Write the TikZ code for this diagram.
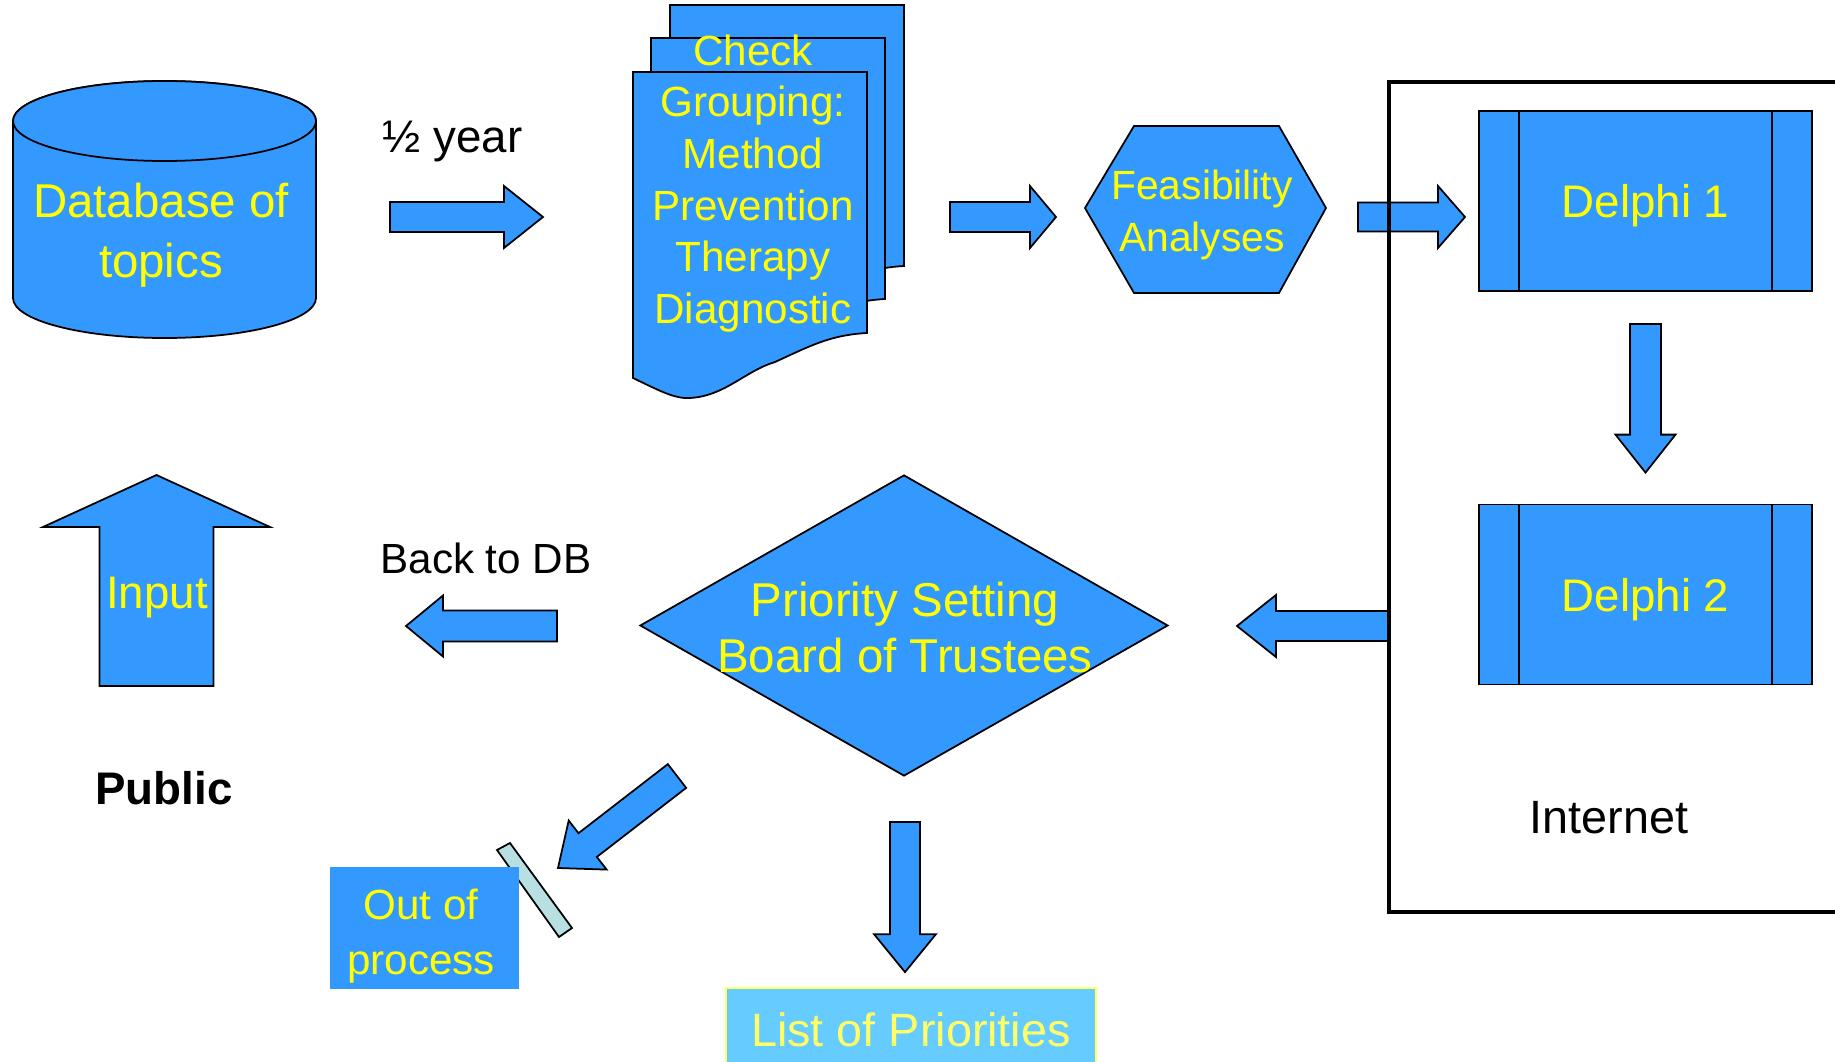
\documentclass[tikz,border=0pt]{standalone}
\usepackage{fontspec}
\setmainfont{Liberation Sans}
\usetikzlibrary{calc,shapes.geometric}
\definecolor{boxblue}{HTML}{3399FF}
\definecolor{listblue}{HTML}{66CCFF}
\definecolor{txtyellow}{HTML}{FFFF00}
\definecolor{paleyellow}{HTML}{FFFF66}
\definecolor{barcyan}{HTML}{B8E0E2}
\tikzset{
  blue shape/.style={fill=boxblue, draw=black, line width=0.5pt, line join=miter},
  yellow text/.style={text=txtyellow, align=center, text depth=0pt, inner sep=0pt},
  black text/.style={text=black, align=center, text depth=0pt, inner sep=0pt},
  process/.style={blue shape, rectangle, minimum width=3.33cm, minimum height=1.80cm, inner sep=0pt,
    path picture={\draw[line width=0.5pt]
      ([xshift=0.40cm]path picture bounding box.north west) -- ([xshift=0.40cm]path picture bounding box.south west)
      ([xshift=-0.40cm]path picture bounding box.north east) -- ([xshift=-0.40cm]path picture bounding box.south east);}},
}
\newcommand{\blockarrow}[5]{%
  \coordinate (ba-base) at ($(#2)!#5!(#1)$);
  \draw[blue shape] ($(#1)!#3!90:(#2)$) -- ($(ba-base)!#3!90:(#2)$) -- ($(ba-base)!#4!90:(#2)$) -- (#2)
    -- ($(ba-base)!#4!-90:(#2)$) -- ($(ba-base)!#3!-90:(#2)$) -- ($(#1)!#3!-90:(#2)$) -- cycle;
}
\begin{document}
\begin{tikzpicture}
\useasboundingbox (0,0) rectangle (18.35,10.61);
\draw[blue shape] (0.13,9.40) -- (0.13,7.63) arc[start angle=180, end angle=360, x radius=1.515, y radius=0.40]
  -- (3.16,9.40) arc[start angle=0, end angle=180, x radius=1.515, y radius=0.40] -- cycle;
\draw[blue shape] (1.645,9.40) ellipse[x radius=1.515, y radius=0.40];
\node[yellow text, font=\fontsize{13.5}{17}\selectfont] (db) at (1.61,8.31) {Database of\\topics};
\node[black text, font=\fontsize{13}{16}\selectfont] (half) at (4.525,9.24) {½ year};
\foreach \dx/\dy in {0.37/0.67, 0.18/0.34, 0/0}
  \draw[blue shape, shift={(\dx,\dy)}] (6.33,9.89) -- (8.67,9.89) -- (8.67,7.28)
    .. controls (8.3,7.26) and (8.1,7.15) .. (7.75,6.99)
    .. controls (7.45,6.90) and (7.25,6.65) .. (6.90,6.63)
    .. controls (6.75,6.62) and (6.6,6.70) .. (6.33,6.83) -- cycle;
\node[yellow text, font=\fontsize{12}{14.7}\selectfont] (doc) at (7.53,8.82) {Check\\Grouping:\\Method\\Prevention\\Therapy\\Diagnostic};
\draw[blue shape] (10.85,8.53) -- (11.34,9.35) -- (12.79,9.35) -- (13.26,8.53) -- (12.79,7.68) -- (11.34,7.68) -- cycle;
\node[yellow text, font=\fontsize{11.6}{14.8}\selectfont] (feas) at (12.02,8.50) {Feasibility\\Analyses};
\node[process, yellow text, font=\fontsize{13}{16}\selectfont] (d1) at (16.455,8.60) {Delphi 1};
\node[process, yellow text, font=\fontsize{13}{16}\selectfont] (d2) at (16.455,4.665) {Delphi 2};
\node[black text, font=\fontsize{13.3}{16}\selectfont] (inet) at (16.09,2.44) {Internet};
\node[diamond, blue shape, minimum width=5.28cm, minimum height=3.01cm, inner sep=0pt] (prio) at (9.04,4.355) {};
\node[yellow text, font=\fontsize{13.5}{15.9}\selectfont] (board) at (9.05,4.34) {Priority Setting\\Board of Trustees};
\node[black text, font=\fontsize{12}{15}\selectfont] (back) at (4.86,5.03) {Back to DB};
\node[black text, font=\bfseries\fontsize{13}{16}\selectfont] (public) at (1.64,2.73) {Public};
\draw[fill=barcyan, draw=black, line width=0.5pt] (4.97,2.11) -- (5.10,2.18) -- (5.72,1.33) -- (5.59,1.24) -- cycle;
\node[fill=boxblue, minimum width=1.89cm, minimum height=1.22cm] (out) at (4.245,1.33) {};
\node[yellow text, font=\fontsize{12}{15.6}\selectfont] (outtext) at (4.21,1.29) {Out of\\process};
\node[fill=listblue, draw=paleyellow, line width=0.5pt, text=paleyellow, text depth=0pt, inner sep=0pt,
  font=\fontsize{13.3}{16}\selectfont, minimum width=3.70cm, minimum height=0.84cm] (list) at (9.11,0.31) {List of Priorities};
\coordinate (a1s) at (3.90,8.44);
\coordinate (a1e) at (5.43,8.44);
\coordinate (a2s) at (9.50,8.44);
\coordinate (a2e) at (10.56,8.44);
\coordinate (a3s) at (13.58,8.44);
\coordinate (a3e) at (14.65,8.44);
\coordinate (a4s) at ([yshift=-0.32cm]d1.south);
\coordinate (a4e) at ([yshift=0.31cm]d2.north);
\coordinate (a5s) at (13.89,4.35);
\coordinate (a5e) at (12.37,4.35);
\coordinate (a6s) at (5.57,4.35);
\coordinate (a6e) at (4.06,4.35);
\coordinate (a7s) at (1.565,3.75);
\coordinate (a7e) at (1.565,5.86);
\coordinate (a8s) at (6.77,2.85);
\coordinate (a8e) at (5.58,1.93);
\coordinate (a9s) at (9.05,2.39);
\coordinate (a9e) at ([yshift=0.15cm]list.north -| a9s);
\blockarrow{a1s}{a1e}{0.15cm}{0.31cm}{0.39cm}
\blockarrow{a2s}{a2e}{0.15cm}{0.31cm}{0.26cm}
\blockarrow{a3s}{a3e}{0.145cm}{0.31cm}{0.27cm}
\blockarrow{a4s}{a4e}{0.155cm}{0.30cm}{0.38cm}
\blockarrow{a5s}{a5e}{0.15cm}{0.31cm}{0.39cm}
\blockarrow{a6s}{a6e}{0.155cm}{0.305cm}{0.37cm}
\blockarrow{a7s}{a7e}{0.57cm}{1.135cm}{0.52cm}
\blockarrow{a8s}{a8e}{0.15cm}{0.31cm}{0.375cm}
\blockarrow{a9s}{a9e}{0.15cm}{0.31cm}{0.38cm}
\node[yellow text, font=\fontsize{13}{16}\selectfont] (input) at (1.57,4.68) {Input};
\draw[line width=1.1pt] (18.6,9.79) -- (13.89,9.79) -- (13.89,1.49) -- (18.6,1.49);
\end{tikzpicture}
\end{document}
